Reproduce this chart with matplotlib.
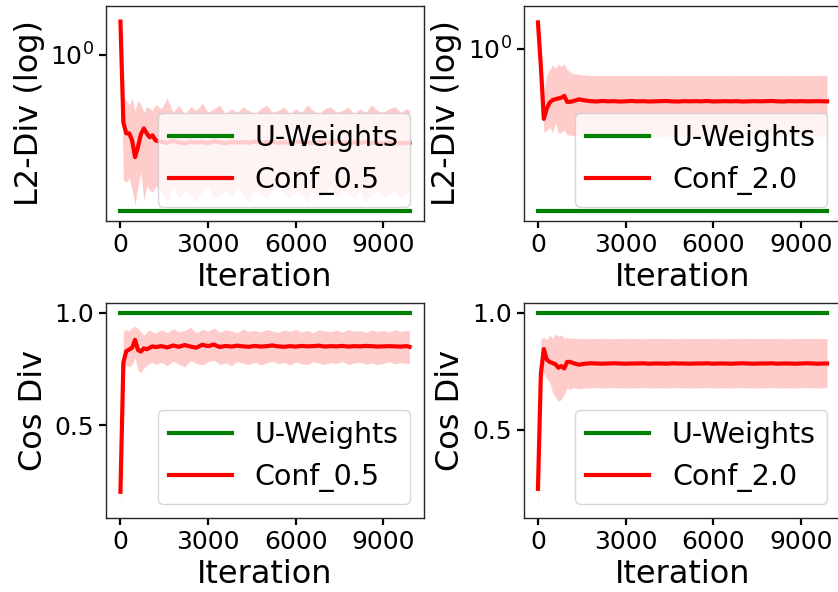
import matplotlib
matplotlib.use("Agg")
import matplotlib.pyplot as plt
from matplotlib.ticker import NullLocator, NullFormatter

# ---------------------------------------------------------------- data
iterations = [0, 100, 200, 300, 400, 500, 600, 700, 800, 900, 1000, 1100, 1200,
              1400, 1600, 1800, 2000, 2200, 2400, 2600, 2800, 3000, 3200,
              3400, 3600, 3800, 4000, 4200, 4400, 4600, 4800, 5000, 5200,
              5400, 5600, 5800, 6000, 6200, 6400, 6600, 6800, 7000, 7200,
              7400, 7600, 7800, 8000, 8200, 8400, 8600, 8800, 9000, 9200,
              9400, 9600, 9800, 9900]

# L2 divergence (log scale)
l2_uniform = 0.25

l2_conf05_mean = [1.34, 0.548, 0.498, 0.498, 0.468, 0.403, 0.442, 0.494, 0.520, 0.498, 0.481, 0.489, 0.468,
                  0.462, 0.458, 0.466, 0.460, 0.455, 0.463, 0.459, 0.461, 0.457, 0.464,
                  0.460, 0.456, 0.462, 0.459, 0.461, 0.458, 0.463, 0.457, 0.460, 0.462,
                  0.458, 0.461, 0.456, 0.460, 0.463, 0.459, 0.457, 0.461, 0.460, 0.458,
                  0.462, 0.459, 0.456, 0.460, 0.458, 0.461, 0.457, 0.459, 0.456, 0.458,
                  0.455, 0.457, 0.456, 0.458]
l2_conf05_hi = [1.41, 0.684, 0.666, 0.643, 0.678, 0.610, 0.666, 0.643, 0.599, 0.632, 0.621, 0.610, 0.643,
                0.62, 0.68, 0.60, 0.64, 0.59, 0.63, 0.61, 0.65, 0.60, 0.62,
                0.64, 0.59, 0.62, 0.60, 0.63, 0.61, 0.59, 0.62, 0.64, 0.60,
                0.61, 0.63, 0.59, 0.62, 0.60, 0.64, 0.61, 0.59, 0.62, 0.63,
                0.60, 0.61, 0.63, 0.59, 0.62, 0.60, 0.64, 0.61, 0.60, 0.62,
                0.63, 0.60, 0.62, 0.61]
l2_conf05_lo = [1.28, 0.329, 0.323, 0.335, 0.301, 0.264, 0.314, 0.353, 0.275, 0.314, 0.301, 0.296, 0.312,
                0.30, 0.27, 0.31, 0.28, 0.30, 0.29, 0.27, 0.30, 0.31, 0.28,
                0.29, 0.30, 0.28, 0.31, 0.29, 0.27, 0.30, 0.29, 0.28, 0.30,
                0.31, 0.29, 0.28, 0.30, 0.29, 0.27, 0.30, 0.28, 0.29, 0.31,
                0.28, 0.30, 0.29, 0.28, 0.30, 0.27, 0.29, 0.30, 0.28, 0.29,
                0.30, 0.28, 0.29, 0.30]

l2_conf20_mean = [1.254, 0.86, 0.55, 0.60, 0.632, 0.646, 0.651, 0.655, 0.659, 0.670, 0.636, 0.636, 0.640,
                  0.650, 0.644, 0.640, 0.638, 0.641, 0.639, 0.640, 0.638, 0.639, 0.641,
                  0.639, 0.640, 0.638, 0.639, 0.640, 0.641, 0.639, 0.638, 0.640, 0.639,
                  0.640, 0.639, 0.641, 0.638, 0.639, 0.640, 0.639, 0.640, 0.638, 0.639,
                  0.640, 0.639, 0.640, 0.641, 0.639, 0.638, 0.640, 0.639, 0.640, 0.639,
                  0.639, 0.640, 0.639, 0.639]
l2_conf20_hi = [1.327, 0.95, 0.70, 0.80, 0.84, 0.87, 0.85, 0.88, 0.86, 0.88, 0.84, 0.82, 0.81,
                0.805, 0.800, 0.797, 0.798, 0.796, 0.797, 0.798, 0.797, 0.796, 0.797,
                0.798, 0.797, 0.797, 0.796, 0.797, 0.798, 0.797, 0.797, 0.796, 0.797,
                0.797, 0.798, 0.797, 0.796, 0.797, 0.797, 0.798, 0.797, 0.796, 0.797,
                0.797, 0.798, 0.797, 0.797, 0.796, 0.797, 0.798, 0.797, 0.797, 0.796,
                0.797, 0.797, 0.798, 0.797]
l2_conf20_lo = [1.20, 0.76, 0.49, 0.50, 0.512, 0.49, 0.534, 0.486, 0.49, 0.50, 0.478, 0.48, 0.476,
                0.478, 0.476, 0.474, 0.475, 0.473, 0.474, 0.475, 0.474, 0.473, 0.474,
                0.475, 0.474, 0.474, 0.473, 0.474, 0.475, 0.474, 0.474, 0.473, 0.474,
                0.474, 0.475, 0.474, 0.473, 0.474, 0.474, 0.475, 0.474, 0.473, 0.474,
                0.474, 0.475, 0.474, 0.474, 0.473, 0.474, 0.475, 0.474, 0.474, 0.473,
                0.474, 0.474, 0.475, 0.474]

# Cosine divergence
cos_uniform = 1.0

cos_conf05_mean = [0.206, 0.78, 0.83, 0.837, 0.845, 0.880, 0.835, 0.828, 0.842, 0.838, 0.845, 0.851, 0.848,
                   0.852, 0.846, 0.855, 0.849, 0.857, 0.850, 0.845, 0.858, 0.852, 0.859,
                   0.848, 0.853, 0.850, 0.854, 0.851, 0.849, 0.853, 0.850, 0.852, 0.855,
                   0.851, 0.849, 0.852, 0.850, 0.853, 0.851, 0.852, 0.854, 0.850, 0.852,
                   0.851, 0.853, 0.850, 0.852, 0.851, 0.853, 0.852, 0.850, 0.851, 0.852,
                   0.851, 0.850, 0.852, 0.849]
cos_conf05_hi = [0.28, 0.918, 0.925, 0.92, 0.935, 0.94, 0.93, 0.915, 0.90, 0.915, 0.925, 0.915, 0.91,
                 0.925, 0.912, 0.930, 0.915, 0.922, 0.935, 0.910, 0.927, 0.918, 0.932,
                 0.914, 0.925, 0.920, 0.912, 0.928, 0.917, 0.922, 0.915, 0.926, 0.919,
                 0.913, 0.924, 0.918, 0.927, 0.915, 0.921, 0.912, 0.925, 0.919, 0.916,
                 0.923, 0.914, 0.926, 0.918, 0.921, 0.913, 0.924, 0.917, 0.922, 0.915,
                 0.925, 0.918, 0.921, 0.920]
cos_conf05_lo = [0.133, 0.75, 0.77, 0.76, 0.77, 0.80, 0.745, 0.735, 0.755, 0.765, 0.775, 0.78, 0.77,
                 0.780, 0.765, 0.785, 0.772, 0.760, 0.788, 0.775, 0.768, 0.782, 0.790,
                 0.770, 0.778, 0.765, 0.784, 0.776, 0.771, 0.781, 0.769, 0.777, 0.785,
                 0.773, 0.779, 0.768, 0.782, 0.774, 0.770, 0.783, 0.776, 0.771, 0.779,
                 0.775, 0.784, 0.770, 0.777, 0.781, 0.772, 0.778, 0.769, 0.776, 0.782,
                 0.774, 0.779, 0.775, 0.773]

cos_conf20_mean = [0.247, 0.74, 0.845, 0.80, 0.79, 0.785, 0.78, 0.765, 0.772, 0.762, 0.79, 0.79, 0.785,
                   0.778, 0.782, 0.784, 0.783, 0.782, 0.783, 0.784, 0.783, 0.782, 0.783,
                   0.783, 0.784, 0.782, 0.783, 0.783, 0.782, 0.784, 0.783, 0.783, 0.782,
                   0.783, 0.783, 0.784, 0.782, 0.783, 0.783, 0.782, 0.783, 0.784, 0.783,
                   0.782, 0.783, 0.783, 0.784, 0.782, 0.783, 0.783, 0.782, 0.783, 0.784,
                   0.783, 0.782, 0.783, 0.783]
cos_conf20_hi = [0.30, 0.89, 0.895, 0.885, 0.905, 0.89, 0.91, 0.90, 0.905, 0.89, 0.895, 0.89, 0.893,
                 0.890, 0.891, 0.889, 0.890, 0.891, 0.890, 0.889, 0.890, 0.891, 0.890,
                 0.890, 0.889, 0.890, 0.891, 0.890, 0.890, 0.889, 0.890, 0.891, 0.890,
                 0.889, 0.890, 0.890, 0.891, 0.890, 0.889, 0.890, 0.890, 0.891, 0.890,
                 0.890, 0.889, 0.890, 0.890, 0.891, 0.890, 0.889, 0.890, 0.890, 0.891,
                 0.890, 0.890, 0.889, 0.890]
cos_conf20_lo = [0.164, 0.70, 0.74, 0.72, 0.70, 0.66, 0.64, 0.62, 0.63, 0.65, 0.68, 0.67, 0.68,
                 0.675, 0.678, 0.679, 0.680, 0.678, 0.679, 0.680, 0.679, 0.678, 0.679,
                 0.679, 0.680, 0.678, 0.679, 0.679, 0.678, 0.680, 0.679, 0.679, 0.678,
                 0.679, 0.679, 0.680, 0.678, 0.679, 0.679, 0.678, 0.679, 0.680, 0.679,
                 0.678, 0.679, 0.679, 0.680, 0.678, 0.679, 0.679, 0.678, 0.679, 0.680,
                 0.679, 0.678, 0.679, 0.679]

x_ticks = [0, 3000, 6000, 9000]
cos_ticks = [0.5, 1.0]

panels = [
    # (axes rect in px: left, top, width, height), ylabel, log?, uniform, conf label, mean, lo, hi
    ([106, 6, 318, 215], "L2-Div (log)", True, l2_uniform, "Conf_0.5",
     l2_conf05_mean, l2_conf05_lo, l2_conf05_hi),
    ([523.5, 6, 318, 215], "L2-Div (log)", True, l2_uniform, "Conf_2.0",
     l2_conf20_mean, l2_conf20_lo, l2_conf20_hi),
    ([106, 303, 318, 215], "Cos Div", False, cos_uniform, "Conf_0.5",
     cos_conf05_mean, cos_conf05_lo, cos_conf05_hi),
    ([523.5, 303, 318, 215], "Cos Div", False, cos_uniform, "Conf_2.0",
     cos_conf20_mean, cos_conf20_lo, cos_conf20_hi),
]

# ---------------------------------------------------------------- style
plt.rcParams.update({
    "font.family": ["DejaVu Sans"],
    "axes.labelsize": 23,
    "xtick.labelsize": 18,
    "ytick.labelsize": 18,
    "legend.fontsize": 20.5,
    "legend.handlelength": 2.2,
    "axes.edgecolor": "#262626",
    "axes.linewidth": 1.0,
    "xtick.major.size": 5,
    "ytick.major.size": 5,
    "xtick.major.width": 1.6,
    "ytick.major.width": 1.6,
})

W, H = 838, 592
fig = plt.figure(figsize=(W / 100, H / 100), dpi=100)

for rect, ylabel, logy, uniform, conf_label, mean, lo, hi in panels:
    left, top, width, height = rect
    ax = fig.add_axes([left / W, 1 - (top + height) / H, width / W, height / H])
    ax.plot(iterations, [uniform] * len(iterations), color="green", lw=3, label="U-Weights")
    ax.plot(iterations, mean, color="red", lw=3, label=conf_label)
    ax.fill_between(iterations, lo, hi, color="red", alpha=0.2, lw=0)
    if logy:
        ax.set_yscale("log")
        ax.yaxis.set_minor_locator(NullLocator())
        ax.yaxis.set_minor_formatter(NullFormatter())
    else:
        ax.set_yticks(cos_ticks)
    ax.set_xticks(x_ticks)
    ax.set_xlabel("Iteration")
    ax.set_ylabel(ylabel)
    ax.legend(loc="lower right")

fig.savefig("out.png", dpi=100)
